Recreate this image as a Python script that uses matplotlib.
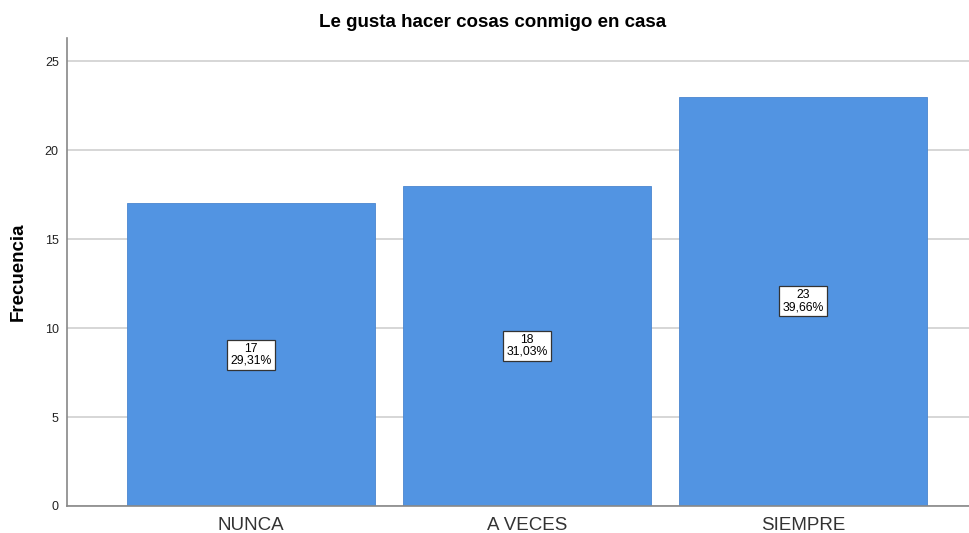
import matplotlib
matplotlib.use("Agg")
import matplotlib.pyplot as plt

categories = ["NUNCA", "A VECES", "SIEMPRE"]
counts = [17, 18, 23]
percents = ["29,31%", "31,03%", "39,66%"]
yticks = [0, 5, 10, 15, 20, 25]

plt.rcParams['font.family'] = ['Liberation Sans', 'DejaVu Sans']

fig = plt.figure(figsize=(9.7, 5.33), dpi=100)
ax = fig.add_axes([0.0691, 0.0507, 0.9309, 0.878])

x = list(range(len(categories)))
ax.bar(x, counts, width=0.899, color="#5294E2", edgecolor="#4a86cf", linewidth=0.6, zorder=2)
for xi, c, p in zip(x, counts, percents):
    ax.text(xi, c / 2, f"{c}\n{p}", ha="center", va="center", fontsize=8.8,
            linespacing=1.0, zorder=3,
            bbox=dict(boxstyle="square,pad=0.25", facecolor="white", edgecolor="#333333", linewidth=0.9))

ax.set_xlim(-0.667, 2.605)
ax.set_ylim(0, 26.3)
ax.set_yticks(yticks)
ax.set_xticks(x)
ax.set_xticklabels(categories, fontsize=13.5, color="#333333")
ax.tick_params(axis="y", labelsize=9, length=0, pad=6, colors="#222222")
ax.tick_params(axis="x", length=0, pad=8)
ax.yaxis.grid(True, color="#cfcfcf", linewidth=1.2, zorder=0)
ax.set_axisbelow(True)
for s in ["top", "right"]:
    ax.spines[s].set_visible(False)
ax.spines["left"].set_color("#888888")
ax.spines["bottom"].set_color("#888888")
ax.spines["left"].set_linewidth(1.2)
ax.spines["bottom"].set_linewidth(1.2)

fig.text(0.019, 0.49, "Frecuencia", rotation=90, ha="center", va="center",
         fontsize=13.5, fontweight="bold")
fig.text(0.508, 0.958, "Le gusta hacer cosas conmigo en casa", ha="center", va="center",
         fontsize=13.5, fontweight="bold")

fig.savefig("out.png", dpi=100)
